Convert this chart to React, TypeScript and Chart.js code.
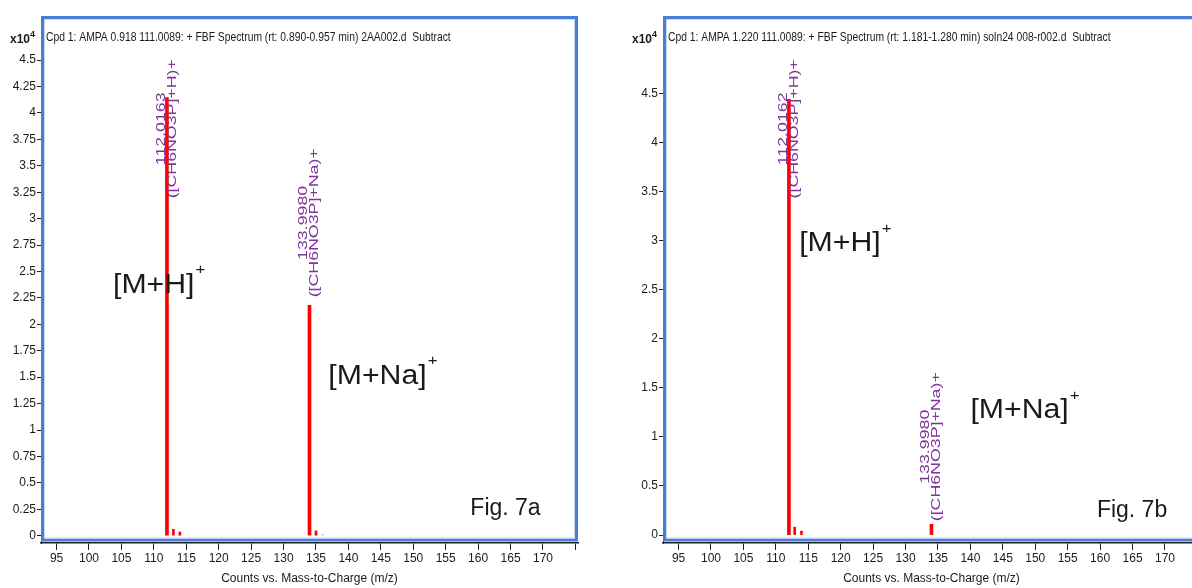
import React, { useEffect, useRef } from 'react';
import { Chart, registerables } from 'chart.js';

Chart.register(...registerables);

// ---------- data (counts are in units of x10^4) ----------
const mzTicks = [95, 100, 105, 110, 115, 120, 125, 130, 135, 140, 145, 150, 155, 160, 165, 170, 175];
const mzTickLabels = ['95', '100', '105', '110', '115', '120', '125', '130', '135', '140', '145', '150', '155', '160', '165', '170', ''];
const leftCountTicks = [0, 0.25, 0.5, 0.75, 1, 1.25, 1.5, 1.75, 2, 2.25, 2.5, 2.75, 3, 3.25, 3.5, 3.75, 4, 4.25, 4.5];
const rightCountTicks = [0, 0.5, 1, 1.5, 2, 2.5, 3, 3.5, 4, 4.5];

const leftMainMz = [112.0163, 133.998];
const leftMainCounts = [4.145, 2.18];
const leftMinorMz = [113.02, 114.01, 135.0, 136.0];
const leftMinorCounts = [0.06, 0.035, 0.045, 0.012];

const rightMainMz = [112.0162, 133.998];
const rightMainCounts = [4.44, 0.11];
const rightMinorMz = [112.9, 113.95];
const rightMinorCounts = [0.08, 0.04];

const leftPeakMasses = ['112.0163', '133.9980'];
const rightPeakMasses = ['112.0162', '133.9980'];
const peakFormulas = ['([CH6NO3P]+H)+', '([CH6NO3P]+Na)+'];
const leftLabelCenters = [3.85, 2.96];
const rightLabelCenters = [4.14, 0.9];

const ionNames = ['[M+H]', '[M+Na]'];
const leftIonPos = [[103.7, 2.37], [136.9, 1.51]];
const rightIonPos = [[113.6, 2.97], [140.0, 1.27]];
const figLabels = ['Fig. 7a', 'Fig. 7b'];
const figPos = [[158.8, 0.26], [159.5, 0.25]];

const headers = [
  'Cpd 1: AMPA 0.918 111.0089: + FBF Spectrum (rt: 0.890-0.957 min) 2AA002.d  Subtract',
  'Cpd 1: AMPA 1.220 111.0089: + FBF Spectrum (rt: 1.181-1.280 min) soln24 008-r002.d  Subtract',
];
const xTitle = 'Counts vs. Mass-to-Charge (m/z)';

const RED = '#ff0000';
const PALE = '#e6b4e8';
const PURPLE = '#80339a';
const BLUE = '#4a7ed6';
const NARROW = '"Liberation Sans Narrow", "Liberation Sans", Arial, sans-serif';
const SANS = '"Liberation Sans", Arial, sans-serif';

const decorPlugin = {
  id: 'decor',
  beforeDatasetsDraw(chart: any) {
    const { ctx, chartArea: ca } = chart;
    ctx.save();
    ctx.strokeStyle = BLUE;
    ctx.lineWidth = 3;
    ctx.strokeRect(ca.left + 1.5, ca.top + 1.5, ca.right - ca.left - 3, ca.bottom - ca.top - 4.5);
    ctx.strokeStyle = '#c9daf5';
    ctx.lineWidth = 1;
    ctx.strokeRect(ca.left + 3.5, ca.top + 3.5, ca.right - ca.left - 7, ca.bottom - ca.top - 8.5);
    ctx.restore();
  },
  afterDatasetsDraw(chart: any, _args: any, opts: any) {
    const { ctx, chartArea: ca, scales } = chart;
    const x = scales.x;
    const y = scales.y;
    ctx.save();
    // header
    ctx.fillStyle = '#1a1a1a';
    ctx.textBaseline = 'middle';
    ctx.textAlign = 'left';
    ctx.save();
    ctx.translate(ca.left + 5, 38);
    ctx.scale(0.86, 1.05);
    ctx.font = '12px ' + NARROW;
    ctx.fillText(opts.header, 0, 0);
    ctx.restore();
    ctx.font = 'bold 12px ' + NARROW;
    ctx.fillText('x10', 10, 40);
    ctx.font = 'bold 9px ' + NARROW;
    ctx.fillText('4', 30, 35);

    // peak labels
    ctx.fillStyle = PURPLE;
    ctx.font = '12px ' + SANS;
    opts.masses.forEach((m: string, i: number) => {
      const px = x.getPixelForValue(opts.labelMz[i]);
      const py = y.getPixelForValue(opts.labelCenters[i]);
      ctx.save();
      ctx.translate(px, py);
      ctx.rotate(-Math.PI / 2);
      ctx.scale(1.48, 1);
      ctx.textAlign = 'center';
      ctx.textBaseline = 'middle';
      ctx.fillText(m, 0, -5.5);
      ctx.fillText(peakFormulas[i], 0, 5.5);
      ctx.restore();
    });

    // ion annotations
    ctx.fillStyle = '#1a1a1a';
    ionNames.forEach((name, i) => {
      const px = x.getPixelForValue(opts.ionPos[i][0]);
      const py = y.getPixelForValue(opts.ionPos[i][1]);
      ctx.save();
      ctx.translate(px, py);
      ctx.scale(1.12, 1);
      ctx.font = '27px ' + SANS;
      ctx.textAlign = 'left';
      ctx.textBaseline = 'middle';
      ctx.fillText(name, 0, 0);
      const w = ctx.measureText(name).width;
      ctx.font = '15px ' + SANS;
      ctx.fillText('+', w + 1, -15);
      ctx.restore();
    });

    // figure label
    ctx.font = '23px ' + SANS;
    ctx.textBaseline = 'middle';
    ctx.textAlign = 'left';
    ctx.fillText(opts.fig, x.getPixelForValue(opts.figPos[0]), y.getPixelForValue(opts.figPos[1]));
    ctx.restore();
  },
};

type PanelProps = {
  mainMz: number[];
  mainCounts: number[];
  minorMz: number[];
  minorCounts: number[];
  minorColors: string[];
  countTicks: number[];
  yMin: number;
  yMax: number;
  decor: any;
  left: number;
};

function Panel(p: PanelProps) {
  const ref = useRef<HTMLCanvasElement | null>(null);
  useEffect(() => {
    if (!ref.current) return;
    const chart = new Chart(ref.current, {
      type: 'bar',
      data: {
        datasets: [
          {
            data: p.mainMz.map((m, i) => ({ x: m, y: p.mainCounts[i] })),
            backgroundColor: RED,
            barThickness: 3,
            grouped: false,
          } as any,
          {
            data: p.minorMz.map((m, i) => ({ x: m, y: p.minorCounts[i] })),
            backgroundColor: p.minorColors,
            barThickness: 2,
            grouped: false,
          } as any,
        ],
      },
      options: {
        animation: false,
        responsive: false,
        devicePixelRatio: 1,
        layout: { padding: { top: 16, right: 22, left: 0, bottom: 0 } },
        plugins: {
          legend: { display: false },
          tooltip: { enabled: false },
          decor: p.decor,
        } as any,
        scales: {
          x: {
            type: 'linear',
            min: 92.6,
            max: 175.4,
            offset: false,
            afterFit: (s: any) => { s.height = 45; },
            afterBuildTicks: (s: any) => { s.ticks = mzTicks.map((v) => ({ value: v })); },
            grid: { display: true, offset: false, drawOnChartArea: false, tickLength: 7, color: '#222', lineWidth: 1 },
            border: { display: true, color: '#222', width: 1.5 },
            ticks: {
              autoSkip: false,
              maxRotation: 0,
              padding: 1,
              color: '#1a1a1a',
              font: { family: NARROW, size: 12 },
              callback: (v: any) => mzTickLabels[mzTicks.indexOf(Number(v))] ?? '',
            },
            title: {
              display: true,
              text: xTitle,
              color: '#1a1a1a',
              font: { family: NARROW, size: 12 },
              padding: { top: 0, bottom: 2 },
            },
          },
          y: {
            type: 'linear',
            min: p.yMin,
            max: p.yMax,
            afterFit: (s: any) => { s.width = 41; },
            afterBuildTicks: (s: any) => { s.ticks = p.countTicks.map((v) => ({ value: v })); },
            grid: { display: true, offset: false, drawOnChartArea: false, tickLength: 4, color: '#222', lineWidth: 1 },
            border: { display: true, color: '#222', width: 1 },
            ticks: {
              autoSkip: false,
              padding: 1,
              color: '#1a1a1a',
              font: { family: NARROW, size: 12 },
              callback: (v: any) => String(Number(v)),
            },
          },
        },
      },
      plugins: [decorPlugin],
    } as any);
    return () => chart.destroy();
  }, []);
  return (
    <canvas
      ref={ref}
      width={600}
      height={588}
      style={{ position: 'absolute', left: p.left, top: 0, width: 600, height: 588 }}
    />
  );
}

export default function App() {
  return (
    <div style={{ position: 'fixed', left: 0, top: 0, width: 1192, height: 588, overflow: 'hidden', background: '#fff' }}>
      <Panel
        left={0}
        mainMz={leftMainMz}
        mainCounts={leftMainCounts}
        minorMz={leftMinorMz}
        minorCounts={leftMinorCounts}
        minorColors={[RED, RED, RED, PALE]}
        countTicks={leftCountTicks}
        yMin={-0.069}
        yMax={4.917}
        decor={{
          header: headers[0],
          masses: leftPeakMasses,
          labelMz: leftMainMz,
          labelCenters: leftLabelCenters,
          ionPos: leftIonPos,
          fig: figLabels[0],
          figPos: figPos[0],
        }}
      />
      <Panel
        left={622}
        mainMz={rightMainMz}
        mainCounts={rightMainCounts}
        minorMz={rightMinorMz}
        minorCounts={rightMinorCounts}
        minorColors={[RED, RED]}
        countTicks={rightCountTicks}
        yMin={-0.081}
        yMax={5.29}
        decor={{
          header: headers[1],
          masses: rightPeakMasses,
          labelMz: rightMainMz,
          labelCenters: rightLabelCenters,
          ionPos: rightIonPos,
          fig: figLabels[1],
          figPos: figPos[1],
        }}
      />
    </div>
  );
}
